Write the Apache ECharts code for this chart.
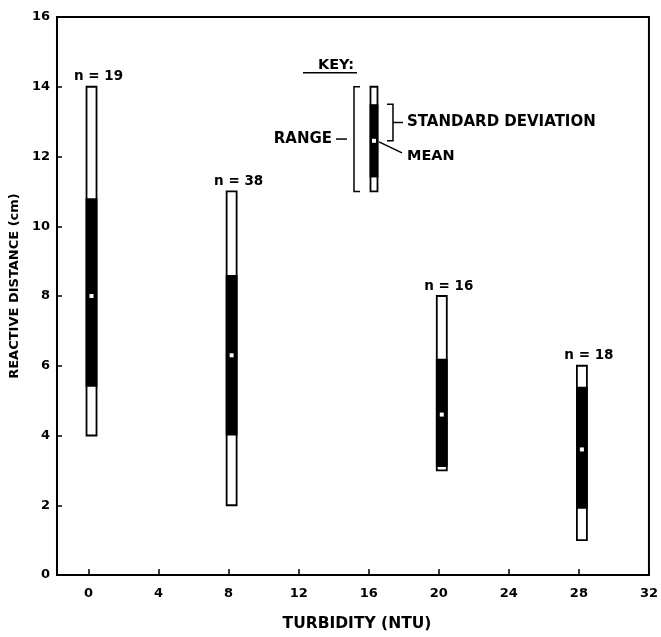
<!DOCTYPE html>
<html>
<head>
<meta charset="utf-8">
<script src="https://cdn.jsdelivr.net/npm/echarts@6/dist/echarts.min.js"></script>
<style>
html,body{margin:0;padding:0;background:#fff;}
#main{width:661px;height:637px;}
</style>
</head>
<body>
<div id="main"></div>
<script>
// ---- data ----
var turbidity = [0, 8, 20, 28];
var rangeMin  = [4, 2, 3, 1];
var rangeMax  = [14, 11, 8, 6];
var sdLow     = [5.4, 4.0, 3.1, 1.9];
var sdHigh    = [10.8, 8.6, 6.2, 5.4];
var means     = [8.0, 6.3, 4.6, 3.6];
var sampleN   = [19, 38, 16, 18];

// key (legend) glyph
var keyX = 16.3;
var keyRange = [11, 14];
var keySD = [11.4, 13.5];
var keyMean = 12.45;

var xTicks = [0, 4, 8, 12, 16, 20, 24, 28, 32];
var yTicks = [0, 2, 4, 6, 8, 10, 12, 14, 16];

var FONT = 'DejaVu Sans';

var barData = turbidity.map(function (t, i) {
  return [t, rangeMin[i], rangeMax[i], sdLow[i], sdHigh[i], means[i], sampleN[i]];
});
var keyData = [[keyX, keyRange[0], keyRange[1], keySD[0], keySD[1], keyMean, 0]];

function barGlyph(api, w, shift) {
  var x = api.value(0);
  var top = api.coord([x, api.value(2)]);
  var bot = api.coord([x, api.value(1)]);
  var sdT = api.coord([x, api.value(4)]);
  var sdB = api.coord([x, api.value(3)]);
  var mn = api.coord([x, api.value(5)]);
  var cx = top[0] + shift;
  var els = [
    {type: 'rect', shape: {x: cx - w / 2, y: top[1], width: w, height: bot[1] - top[1]},
      style: {fill: '#fff', stroke: '#000', lineWidth: 1.8}},
    {type: 'rect', shape: {x: cx - w / 2 - 0.9, y: sdT[1], width: w + 1.8, height: sdB[1] - sdT[1]},
      style: {fill: '#000'}},
    {type: 'rect', shape: {x: cx - 2, y: mn[1] - 2, width: 4, height: 4},
      style: {fill: '#fff'}}
  ];
  return {cx: cx, top: top, bot: bot, sdT: sdT, sdB: sdB, mn: mn, els: els};
}

var chart = echarts.init(document.getElementById('main'), null, {renderer: 'canvas'});

var option = {
  backgroundColor: '#fff',
  animation: false,
  grid: {left: 56, right: 9, top: 17, bottom: 59, show: true, borderColor: '#000', borderWidth: 2},
  xAxis: {
    type: 'value', min: -1.8, max: 32,
    name: 'TURBIDITY (NTU)', nameLocation: 'middle', nameGap: 41,
    nameTextStyle: {fontFamily: FONT, fontWeight: 'bold', fontSize: 15.5, color: '#000', padding: [0, 0, 0, 8]},
    axisLine: {show: true, onZero: false, lineStyle: {color: '#000', width: 2}},
    axisTick: {show: true, inside: true, length: 6, customValues: xTicks, lineStyle: {color: '#000', width: 1.5}},
    axisLabel: {customValues: xTicks, margin: 12, fontFamily: FONT, fontWeight: 'bold', fontSize: 13, color: '#000'},
    splitLine: {show: false}
  },
  yAxis: {
    type: 'value', min: 0, max: 16, interval: 2,
    name: 'REACTIVE DISTANCE (cm)', nameLocation: 'middle', nameGap: 34, nameRotate: 90,
    nameTextStyle: {fontFamily: FONT, fontWeight: 'bold', fontSize: 13, color: '#000', padding: [0, 0, 0, 20]},
    axisLine: {show: true, onZero: false, lineStyle: {color: '#000', width: 2}},
    axisTick: {show: true, inside: true, length: 5, lineStyle: {color: '#000', width: 1.5}},
    axisLabel: {margin: 7, fontFamily: FONT, fontWeight: 'bold', fontSize: 13, color: '#000',
      formatter: function (v) { return yTicks.indexOf(v) >= 0 ? String(v) : ''; }},
    splitLine: {show: false}
  },
  series: [
    {
      type: 'custom',
      data: barData,
      renderItem: function (params, api) {
        var g = barGlyph(api, 10, 3);
        g.els.push({type: 'text', x: g.cx + 7, y: g.top[1] - 10,
          style: {text: 'n = ' + api.value(6), fill: '#000', font: 'bold 13.5px ' + FONT,
            align: 'center', verticalAlign: 'middle'}});
        return {type: 'group', children: g.els};
      }
    },
    {
      type: 'custom',
      data: keyData,
      renderItem: function (params, api) {
        var g = barGlyph(api, 7, 0);
        var cx = g.cx;
        var lw = 1.5;
        var font = 'bold 14.5px ' + FONT;
        var midRange = (g.top[1] + g.bot[1]) / 2;
        var sdMid = (g.sdT[1] + g.mn[1]) / 2;
        var els = g.els.concat([
          // KEY: title with underline
          {type: 'text', x: cx - 38, y: g.top[1] - 22,
            style: {text: 'KEY:', fill: '#000', font: font, align: 'center', verticalAlign: 'middle'}},
          {type: 'line', shape: {x1: cx - 71, y1: g.top[1] - 14, x2: cx - 17, y2: g.top[1] - 14},
            style: {stroke: '#000', lineWidth: 1.5}},
          // range bracket
          {type: 'polyline', shape: {points: [[cx - 14, g.top[1]], [cx - 20, g.top[1]], [cx - 20, g.bot[1]], [cx - 14, g.bot[1]]]},
            style: {stroke: '#000', fill: null, lineWidth: lw}},
          {type: 'line', shape: {x1: cx - 38, y1: midRange, x2: cx - 27, y2: midRange},
            style: {stroke: '#000', lineWidth: lw}},
          {type: 'text', x: cx - 42, y: midRange,
            style: {text: 'RANGE', fill: '#000', font: 'bold 15px ' + FONT, align: 'right', verticalAlign: 'middle'}},
          // SD bracket
          {type: 'polyline', shape: {points: [[cx + 13, g.sdT[1]], [cx + 19, g.sdT[1]], [cx + 19, g.mn[1]], [cx + 13, g.mn[1]]]},
            style: {stroke: '#000', fill: null, lineWidth: lw}},
          {type: 'line', shape: {x1: cx + 19, y1: sdMid, x2: cx + 29, y2: sdMid},
            style: {stroke: '#000', lineWidth: lw}},
          {type: 'text', x: cx + 33, y: sdMid,
            style: {text: 'STANDARD DEVIATION', fill: '#000', font: 'bold 15px ' + FONT, align: 'left', verticalAlign: 'middle'}},
          // mean leader
          {type: 'line', shape: {x1: cx + 5, y1: g.mn[1] + 1, x2: cx + 28, y2: g.mn[1] + 12},
            style: {stroke: '#000', lineWidth: lw}},
          {type: 'text', x: cx + 33, y: g.mn[1] + 15,
            style: {text: 'MEAN', fill: '#000', font: font, align: 'left', verticalAlign: 'middle'}}
        ]);
        return {type: 'group', children: els};
      }
    }
  ]
};
chart.setOption(option);
</script>
</body>
</html>
